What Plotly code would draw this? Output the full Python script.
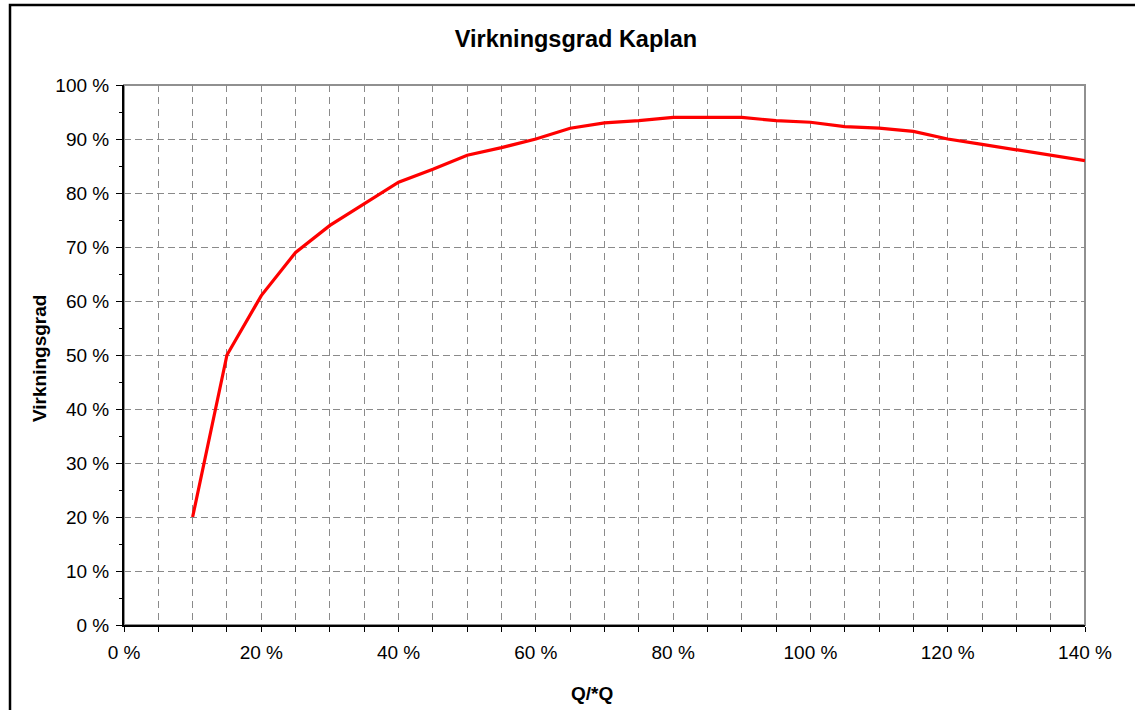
import plotly.graph_objects as go

# Efficiency curve of a Kaplan turbine versus relative flow
flow_pct = [10, 15, 20, 25, 30, 35, 40, 45, 50, 55, 60, 65, 70, 75, 80, 85,
            90, 95, 100, 105, 110, 115, 120, 125, 130, 135, 140]
efficiency_pct = [20, 50, 61, 69, 74, 78, 82, 84.4, 87, 88.4, 90, 92, 93, 93.4, 94, 94,
                  94, 93.4, 93.1, 92.3, 92, 91.4, 90, 89, 88, 87.1, 86]

x_ticks = list(range(0, 141, 5))
x_labels = [f"{v} %" if v % 20 == 0 else "" for v in x_ticks]
y_ticks = list(range(0, 101, 10))
y_labels = [f"{v} %" for v in y_ticks]

W, H = 1135, 710
L, R, T, B = 124, 1085, 85, 625  # plot area in pixels


def px_x(p):
    return (p - L) / (R - L)


def px_y(p):
    return (B - p) / (B - T)


FONT = "Liberation Sans, Arial, sans-serif"
GRID = "#8a8a8a"

fig = go.Figure()
fig.add_trace(go.Scatter(
    x=flow_pct, y=efficiency_pct, mode="lines",
    line=dict(color="#ff0000", width=3.2), showlegend=False,
    cliponaxis=False,
))

fig.update_layout(
    width=W, height=H,
    margin=dict(l=L, r=W - R, t=T, b=H - B, pad=0),
    paper_bgcolor="white", plot_bgcolor="white",
    font=dict(family=FONT, size=19, color="black"),
    title=dict(text="<b>Virkningsgrad Kaplan</b>", xref="container", yref="container",
               x=576 / W, y=1 - 39 / H, xanchor="center", yanchor="middle",
               font=dict(family=FONT, size=23.5, color="black")),
    xaxis=dict(
        range=[0, 140], tickmode="array", tickvals=x_ticks, ticktext=x_labels,
        ticks="outside", ticklen=5, tickwidth=1, tickcolor="black",
        showline=True, linecolor="black", linewidth=2,
        showgrid=True, gridcolor=GRID, gridwidth=1, griddash="7px,5px",
        zeroline=False, tickfont=dict(size=19), ticklabelstandoff=4,
    ),
    yaxis=dict(
        range=[0, 100], tickmode="array", tickvals=y_ticks, ticktext=y_labels,
        ticks="outside", ticklen=6, tickwidth=1, tickcolor="black",
        minor=dict(dtick=5, tick0=0, ticks="outside", ticklen=3, tickcolor="black",
                   showgrid=False),
        showline=True, linecolor="black", linewidth=2,
        showgrid=True, gridcolor=GRID, gridwidth=1, griddash="7px,4px",
        zeroline=False, tickfont=dict(size=19), ticklabelstandoff=3,
    ),
    shapes=[
        # grey plot-area frame
        dict(type="rect", xref="paper", yref="paper", x0=0, x1=1, y0=0, y1=1,
             line=dict(color="#909090", width=2), layer="below"),
        # outer chart frame
        dict(type="rect", xref="paper", yref="paper",
             x0=px_x(10), x1=px_x(W + 20), y0=px_y(H + 20), y1=px_y(5),
             line=dict(color="black", width=2.5)),
    ],
    annotations=[
        dict(text="<b>Q/*Q</b>", xref="paper", yref="paper",
             x=px_x(592), y=px_y(693), xanchor="center", yanchor="middle",
             showarrow=False, font=dict(family=FONT, size=19, color="black")),
        dict(text="<b>Virkningsgrad</b>", xref="paper", yref="paper",
             x=px_x(39), y=px_y(359), xanchor="center", yanchor="middle",
             textangle=-90, showarrow=False,
             font=dict(family=FONT, size=19, color="black")),
    ],
)

fig.write_html("out.html")
